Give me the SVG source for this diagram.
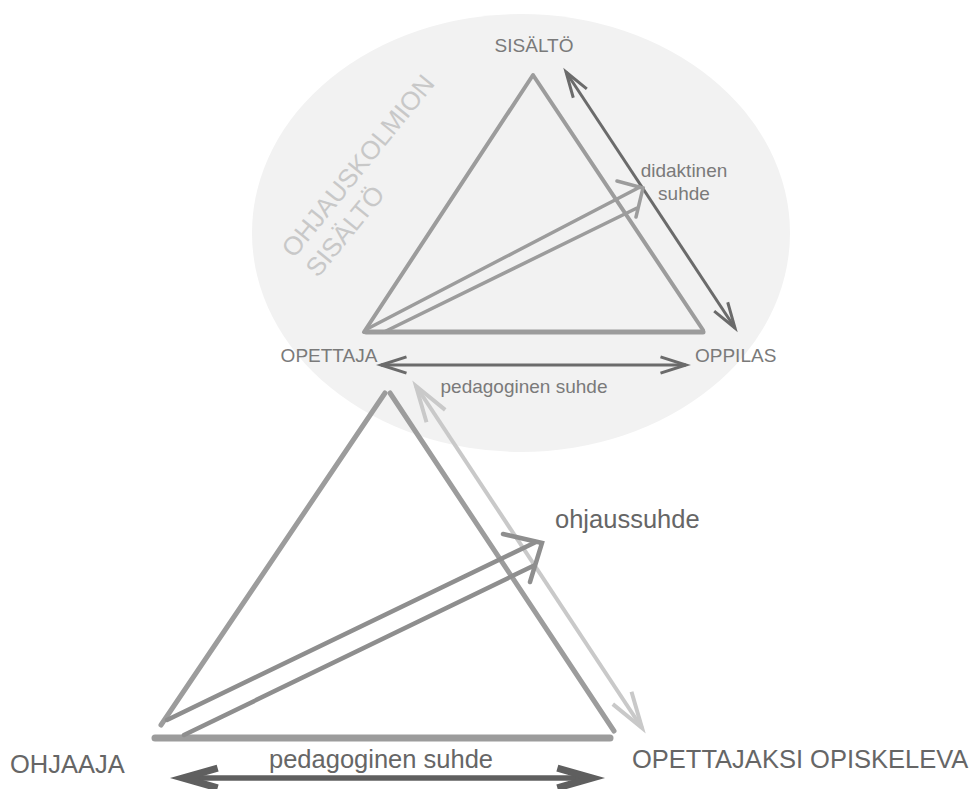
<svg xmlns="http://www.w3.org/2000/svg" width="977" height="789" viewBox="0 0 977 789">
  <style>
    .lbl { font-family: "Liberation Sans", Arial, sans-serif; }
    .up { font-size: 19px; fill: #7a7a7a; }
    .low { font-size: 25.5px; fill: #666666; }
    .tri { fill: none; stroke: #9c9c9c; stroke-linecap: round; stroke-linejoin: round; }
    .dark { fill: none; stroke: #6b6b6b; stroke-width: 3; }
    .light { fill: none; stroke: #c9c9c9; stroke-width: 4; }
    .thick { fill: none; stroke: #5f5f5f; stroke-width: 5.5; }
    .flow { fill: none; stroke-linecap: round; stroke-linejoin: miter; }
  </style>
  <defs>
    <marker id="chevDark" viewBox="-10 -4 12 8" refX="0" refY="0" markerWidth="12" markerHeight="8" markerUnits="strokeWidth" orient="auto-start-reverse" overflow="visible">
      <path d="M-8.5,-2.7 L0,0 L-8.5,2.7" fill="none" stroke="#6b6b6b" stroke-width="1"/>
    </marker>
    <marker id="chevLight" viewBox="-10 -4 12 8" refX="0" refY="0" markerWidth="12" markerHeight="8" markerUnits="strokeWidth" orient="auto-start-reverse" overflow="visible">
      <path d="M-9,-2.8 L0,0 L-9,2.8" fill="none" stroke="#c9c9c9" stroke-width="1"/>
    </marker>
    <marker id="chevThick" viewBox="-8 -3 10 6" refX="0" refY="0" markerWidth="10" markerHeight="6" markerUnits="strokeWidth" orient="auto-start-reverse" overflow="visible">
      <path d="M-6.3,-1.8 L0,0 L-6.3,1.8" fill="none" stroke="#5f5f5f" stroke-width="1.3"/>
    </marker>
  </defs>

  <rect width="977" height="789" fill="#ffffff"/>

  <!-- light area holding the teaching triangle -->
  <g id="content-area">
    <ellipse cx="521" cy="233" rx="269" ry="219" fill="#f2f2f2"/>
    <text class="lbl" font-size="26" fill="#c8c8c8" transform="translate(294,259) rotate(-51)">
      <tspan x="0" y="0">OHJAUSKOLMION</tspan>
      <tspan x="0" y="31">SISÄLTÖ</tspan>
    </text>
  </g>

  <!-- upper (didactic) triangle -->
  <g id="teaching-triangle">
    <path class="tri" stroke-width="4" d="M364,332 L533,75 L703,330"/>
    <path class="tri" stroke-width="5" d="M366,332 L703,332"/>
  </g>

  <!-- lower (guidance) triangle -->
  <g id="guidance-triangle">
    <path class="tri" stroke="#959595" stroke-width="5" d="M161,725 L385,393"/>
    <path class="tri" stroke="#959595" stroke-width="5" d="M390,393 L614,731"/>
    <path class="tri" stroke="#9e9e9e" stroke-width="7" d="M155,738 L610,738"/>
  </g>

  <g id="node-sisalto"><text class="lbl up" x="534" y="52" text-anchor="middle">SISÄLTÖ</text></g>
  <g id="node-opettaja"><text class="lbl up" x="329" y="362" text-anchor="middle">OPETTAJA</text></g>
  <g id="node-oppilas"><text class="lbl up" x="695" y="362">OPPILAS</text></g>
  <g id="node-ohjaaja"><text class="lbl low" x="10" y="773">OHJAAJA</text></g>
  <g id="node-opiskeleva"><text class="lbl low" x="632" y="768">OPETTAJAKSI OPISKELEVA</text></g>

  <g id="connectors">
    <!-- didaktinen suhde -->
    <line class="dark" x1="566" y1="72" x2="735" y2="328" marker-start="url(#chevDark)" marker-end="url(#chevDark)"/>
    <!-- pedagoginen suhde (upper) -->
    <line class="dark" x1="381" y1="365" x2="686" y2="365" marker-start="url(#chevDark)" marker-end="url(#chevDark)"/>
    <!-- outline arrow from OPETTAJA towards the content side -->
    <path class="flow" stroke="#9c9c9c" stroke-width="3.5" d="M367,329 L640,187 M384,332 L637,208 M617,181 L643,188 L636,217"/>
    <!-- light arrow along the guidance triangle -->
    <line class="light" x1="416" y1="386" x2="642" y2="728" marker-start="url(#chevLight)" marker-end="url(#chevLight)"/>
    <!-- ohjaussuhde outline arrow -->
    <path class="flow" stroke="#8e8e8e" stroke-width="4.5" d="M167,720 L536,542 M184,735 L533,566 M503,534 L542,543 L530,582"/>
    <!-- pedagoginen suhde (lower) -->
    <line class="thick" x1="183" y1="778" x2="592" y2="778" marker-start="url(#chevThick)" marker-end="url(#chevThick)"/>
  </g>

  <g id="connector-labels">
    <text class="lbl up" x="684" y="177" text-anchor="middle">didaktinen</text>
    <text class="lbl up" x="684" y="200" text-anchor="middle">suhde</text>
    <text class="lbl up" x="524" y="393" text-anchor="middle">pedagoginen suhde</text>
    <text class="lbl low" x="555" y="528">ohjaussuhde</text>
    <text class="lbl low" x="381" y="768" text-anchor="middle">pedagoginen suhde</text>
  </g>
</svg>
